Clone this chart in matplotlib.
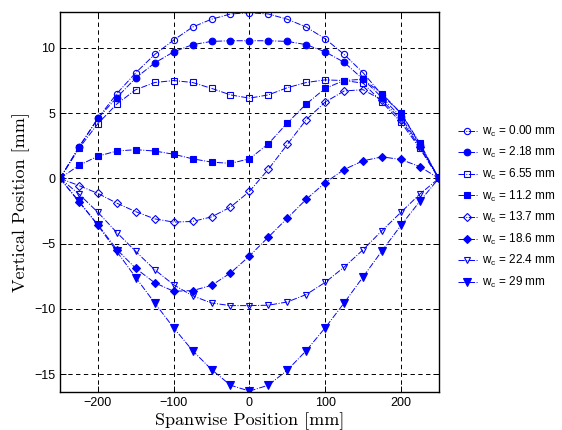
import matplotlib
matplotlib.use("Agg")
import matplotlib.pyplot as plt

plt.rcParams['font.family'] = ['Liberation Sans', 'DejaVu Sans']
plt.rcParams['mathtext.default'] = 'regular'

# spanwise stations [mm]
x = [-250, -225, -200, -175, -150, -125, -100, -75, -50, -25, 0,
     25, 50, 75, 100, 125, 150, 175, 200, 225, 250]

labels = ['0.00', '2.18', '6.55', '11.2', '13.7', '18.6', '22.4', '29']

# vertical position [mm] for each w_c
y_000 = [0, 2.4, 4.6, 6.5, 8.1, 9.5, 10.6, 11.6, 12.2, 12.6, 12.7,
         12.6, 12.2, 11.6, 10.7, 9.5, 8.1, 6.4, 5.0, 2.6, 0]
y_218 = [0, 2.4, 4.6, 6.2, 7.7, 8.85, 9.7, 10.25, 10.5, 10.55, 10.55,
         10.55, 10.5, 10.25, 9.7, 8.9, 7.6, 6.2, 4.7, 2.5, 0]
y_655 = [0, 2.3, 4.2, 5.7, 6.8, 7.35, 7.5, 7.35, 6.9, 6.4, 6.15,
         6.4, 6.95, 7.35, 7.55, 7.5, 7.3, 5.85, 4.3, 2.3, 0]
y_112 = [0, 1.0, 1.7, 2.1, 2.2, 2.1, 1.85, 1.5, 1.25, 1.15, 1.5,
         2.65, 4.25, 5.7, 6.9, 7.5, 7.6, 6.5, 5.0, 2.7, 0]
y_137 = [0, -0.55, -1.15, -1.9, -2.55, -3.1, -3.35, -3.3, -2.95, -2.2, -1.0,
         0.7, 2.6, 4.5, 5.85, 6.7, 6.8, 6.0, 4.5, 2.4, 0]
y_186 = [0, -1.8, -3.55, -5.45, -6.9, -8.0, -8.65, -8.6, -8.2, -7.25, -5.95,
         -4.5, -3.05, -1.6, -0.33, 0.68, 1.35, 1.65, 1.45, 0.9, 0]
y_224 = [0, -1.2, -2.6, -4.15, -5.6, -7.0, -8.15, -9.0, -9.55, -9.75, -9.75,
         -9.72, -9.47, -8.9, -7.97, -6.8, -5.47, -4.0, -2.6, -1.2, 0]
y_290 = [0, -1.75, -3.6, -5.6, -7.6, -9.55, -11.45, -13.2, -14.65, -15.85, -16.3,
         -15.85, -14.7, -13.2, -11.45, -9.55, -7.55, -5.55, -3.6, -1.75, 0]

series = [y_000, y_218, y_655, y_112, y_137, y_186, y_224, y_290]
markers = ['o', 'o', 's', 's', 'D', 'D', 'v', 'v']
filled = [False, True, False, True, False, True, False, True]
msizes = [4.5, 4.8, 3.8, 3.8, 3.6, 3.8, 4.8, 5.2]

blue = (0, 0, 1)

fig = plt.figure(figsize=(5.62, 4.30), dpi=100)
ax = fig.add_axes([0.1068, 0.089, 0.674, 0.883])

for y, lab, m, f, ms in zip(series, labels, markers, filled, msizes):
    ax.plot(x, y, linestyle='-.', color=blue, linewidth=0.7,
            marker=m, markersize=ms, markeredgewidth=0.8,
            markerfacecolor=blue if f else 'none', markeredgecolor=blue,
            label=r'$w_c$ = %s mm' % lab)

ax.set_xlim(-250, 250)
ax.set_ylim(-16.35, 12.75)
ax.set_xticks([-200, -100, 0, 100, 200])
ax.set_yticks([-15, -10, -5, 0, 5, 10])
ax.grid(True, linestyle=(0, (4.5, 3.5)), color='black', linewidth=0.7)
ax.tick_params(direction='in', length=4, width=0.7, labelsize=9,
               top=True, right=True)
for s in ax.spines.values():
    s.set_linewidth(1.0)

ax.set_xlabel('Spanwise Position [mm]', fontname='cmr10', fontsize=13, labelpad=2.5)
ax.set_ylabel('Vertical Position [mm]', fontname='cmr10', fontsize=13, labelpad=2.5)

ax.legend(loc='center left', bbox_to_anchor=(1.0, 0.487), frameon=False,
          fontsize=8.5, handlelength=1.6, handletextpad=0.5,
          labelspacing=0.55, borderaxespad=1.2)

fig.savefig('out.png', dpi=100)
